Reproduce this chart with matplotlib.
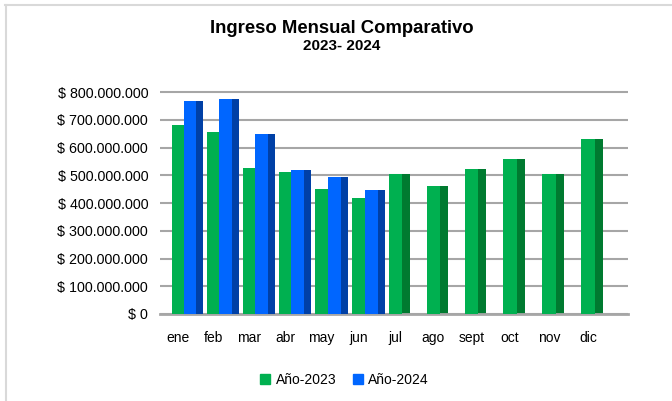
import numpy as np
import matplotlib.pyplot as plt
from matplotlib.ticker import FuncFormatter
from matplotlib.lines import Line2D
from matplotlib.patches import Patch

months = ["ene", "feb", "mar", "abr", "may", "jun", "jul", "ago", "sept", "oct", "nov", "dic"]
ingreso_2023 = [680000000, 658000000, 527000000, 512000000, 450000000, 420000000,
                503000000, 460000000, 522000000, 560000000, 505000000, 632000000]
ingreso_2024 = [768000000, 776000000, 648000000, 518000000, 493000000, 447000000]
y_ticks = [0, 100000000, 200000000, 300000000, 400000000, 500000000, 600000000, 700000000, 800000000]

GREEN, GREEN_SIDE = "#00B050", "#007A30"
BLUE, BLUE_SIDE = "#0066FF", "#0040A6"
W = 0.35      # front face width
D = 0.2       # side face depth
PERSP = 0.0057  # x gets a bit wider to the right, like the 3D view


def fwd(x):
    x = np.asarray(x, dtype=float)
    return x + PERSP * x * x


def inv(u):
    u = np.asarray(u, dtype=float)
    return (-1 + np.sqrt(np.maximum(1 + 4 * PERSP * u, 0))) / (2 * PERSP)


plt.rcParams['font.family'] = ['Liberation Sans', 'DejaVu Sans']

fig = plt.figure(figsize=(6.72, 4.01), dpi=100)
ax = fig.add_axes([0.238, 0.217, 0.697, 0.574])
ax.set_xscale('function', functions=(fwd, inv))

x23 = list(range(len(months)))
x24 = [i + W for i in range(len(ingreso_2024))]

# green bars (side face first, front face on top)
ax.bar([x + W / 2 + D / 2 for x in x23], ingreso_2023, width=D, color=GREEN_SIDE, zorder=2)
ax.bar(x23, ingreso_2023, width=W, color=GREEN, zorder=3)
# blue bars sit in front of the green side faces
ax.bar([x + W / 2 + D / 2 for x in x24], ingreso_2024, width=D, color=BLUE_SIDE, zorder=4)
ax.bar(x24, ingreso_2024, width=W, color=BLUE, zorder=5)

ax.set_xlim(-0.512, 12.007)
ax.set_ylim(0, 830000000)
ax.set_yticks(y_ticks)
ax.yaxis.set_major_formatter(FuncFormatter(lambda v, p: "$ " + f"{int(v):,}".replace(",", ".")))
ax.set_xticks(x23)
ax.set_xticklabels(months)
ax.xaxis.set_minor_locator(plt.NullLocator())
ax.tick_params(axis='y', length=0, pad=8.5, labelsize=10.3, labelcolor="#000000")
ax.tick_params(axis='x', which='both', length=0, pad=12, labelsize=10, labelcolor="#000000")

ax.yaxis.grid(True, color="#A6A6A6", linewidth=1.5, zorder=0)
ax.set_axisbelow(True)
for s in ["top", "right", "left"]:
    ax.spines[s].set_visible(False)
ax.spines["bottom"].set_color("#A6A6A6")
ax.spines["bottom"].set_linewidth(2)

fig.text(0.509, 0.930, "Ingreso Mensual Comparativo", ha="center", va="center",
         fontsize=13.3, fontweight="bold")
fig.text(0.509, 0.886, "2023- 2024", ha="center", va="center", fontsize=11, fontweight="bold")

handles = [Patch(color=GREEN, label="Año-2023"), Patch(color=BLUE, label="Año-2024")]
fig.legend(handles=handles, loc="center", bbox_to_anchor=(0.513, 0.052), ncol=2, frameon=False,
           fontsize=10, handlelength=0.7, handleheight=0.7, handletextpad=0.4, columnspacing=1.2)

# chart border (only top and left visible in the crop)
fig.add_artist(Line2D([0.008, 1.0], [0.987, 0.987], color="#D9D9D9", linewidth=1.5))
fig.add_artist(Line2D([0.009, 0.009], [0.0, 0.987], color="#D9D9D9", linewidth=1.5))

fig.savefig("out.png", dpi=100)
